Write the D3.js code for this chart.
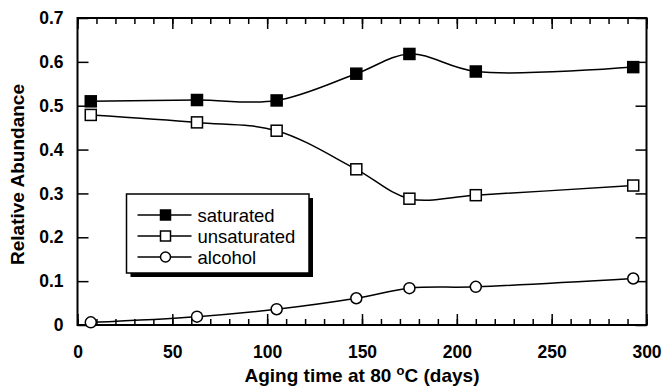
<!DOCTYPE html>
<html>
<head>
<meta charset="utf-8">
<script src="https://cdn.jsdelivr.net/npm/d3@7"></script>
<style>
  html, body { margin: 0; padding: 0; background: #fff; }
  svg { display: block; font-family: "Liberation Sans", Arial, Helvetica, sans-serif; }
</style>
</head>
<body>
<svg id="chart" width="663" height="387"></svg>
<script>
// values
const days = [7, 63, 105, 147, 175, 210, 293];
const saturated = [0.51, 0.513, 0.512, 0.573, 0.618, 0.578, 0.588];
const unsaturated = [0.479, 0.462, 0.443, 0.355, 0.288, 0.296, 0.318];
const alcohol = [0.006, 0.019, 0.036, 0.061, 0.084, 0.087, 0.106];

const seriesNames = ["saturated", "unsaturated", "alcohol"];
const xTicks = [0, 50, 100, 150, 200, 250, 300];
const xMinorTicks = d3.range(0, 301, 10);
const yTicks = [0, 0.1, 0.2, 0.3, 0.4, 0.5, 0.6, 0.7];
const yTickLabels = ["0", "0.1", "0.2", "0.3", "0.4", "0.5", "0.6", "0.7"];

const margin = {left: 77.5, right: 16.5, top: 18, bottom: 62};
const width = 663 - margin.left - margin.right;
const height = 387 - margin.top - margin.bottom;

const svg = d3.select("#chart");
const g = svg.append("g")
  .attr("transform", "translate(" + margin.left + "," + margin.top + ")");

const x = d3.scaleLinear().domain([0, 300]).range([0, width]);
const y = d3.scaleLinear().domain([0, 0.7]).range([height, 0]);

// minor ticks, top and bottom, pointing inward
g.append("g")
  .attr("transform", "translate(0," + height + ")")
  .call(d3.axisBottom(x).tickValues(xMinorTicks).tickSize(-6).tickFormat(""));
g.append("g")
  .call(d3.axisTop(x).tickValues(xMinorTicks).tickSize(-6).tickFormat(""));

// major x ticks + labels
g.append("g")
  .attr("transform", "translate(0," + height + ")")
  .call(d3.axisBottom(x).tickValues(xTicks).tickSize(-11).tickPadding(21).tickFormat(d3.format("d")));
g.append("g")
  .call(d3.axisTop(x).tickValues(xTicks).tickSize(-11).tickFormat(""));

// y ticks left with labels, right without
g.append("g")
  .call(d3.axisLeft(y).tickValues(yTicks).tickSize(-11).tickPadding(14)
    .tickFormat((d, i) => yTickLabels[i]));
g.append("g")
  .attr("transform", "translate(" + width + ",0)")
  .call(d3.axisRight(y).tickValues(yTicks).tickSize(-11).tickFormat(""));

g.selectAll(".domain").remove();
g.selectAll(".tick line").attr("stroke", "#000").attr("stroke-width", 1.5);
g.selectAll(".tick text")
  .attr("fill", "#000")
  .style("font-size", "17.5px")
  .style("font-weight", "bold");

// frame
g.append("rect")
  .attr("width", width).attr("height", height)
  .attr("fill", "none").attr("stroke", "#000").attr("stroke-width", 2);

// axis titles
const xTitle = svg.append("text")
  .attr("x", margin.left + width / 2)
  .attr("y", 382)
  .attr("text-anchor", "middle")
  .style("font-size", "19px").style("font-weight", "bold");
xTitle.append("tspan").text("Aging time at 80 ");
xTitle.append("tspan").attr("dy", -7).style("font-size", "13px").text("o");
xTitle.append("tspan").attr("dy", 7).text("C (days)");

svg.append("text")
  .attr("transform", "translate(24," + (margin.top + height / 2 + 3) + ") rotate(-90)")
  .attr("text-anchor", "middle")
  .style("font-size", "19px").style("font-weight", "bold")
  .text("Relative Abundance");

// lines + markers
const allSeries = [saturated, unsaturated, alcohol];
const line = d3.line()
  .x((d, i) => x(days[i]))
  .y(d => y(d))
  .curve(d3.curveCatmullRom.alpha(0.5));

allSeries.forEach(vals => {
  g.append("path")
    .datum(vals)
    .attr("d", line)
    .attr("fill", "none")
    .attr("stroke", "#000")
    .attr("stroke-width", 1.5);
});

function marker(sel, kind, size) {
  if (kind === 2) {
    sel.append("circle").attr("r", size / 2)
      .attr("fill", "#fff").attr("stroke", "#000").attr("stroke-width", 1.5);
  } else {
    sel.append("rect")
      .attr("x", -size / 2).attr("y", -size / 2)
      .attr("width", size).attr("height", size)
      .attr("fill", kind === 0 ? "#000" : "#fff")
      .attr("stroke", "#000").attr("stroke-width", 1.5);
  }
}

allSeries.forEach((vals, k) => {
  g.selectAll(".m" + k)
    .data(vals)
    .enter()
    .append("g")
    .attr("transform", (d, i) => "translate(" + x(days[i]) + "," + y(d) + ")")
    .each(function () { marker(d3.select(this), k, 11); });
});

// legend with drop shadow
const lg = svg.append("g").attr("transform", "translate(126.5,194)");
lg.append("rect").attr("x", 4).attr("y", 4).attr("width", 182.5).attr("height", 79).attr("fill", "#000");
lg.append("rect").attr("width", 182.5).attr("height", 79)
  .attr("fill", "#fff").attr("stroke", "#000").attr("stroke-width", 1.5);

seriesNames.forEach((name, k) => {
  const row = lg.append("g").attr("transform", "translate(0," + (21 + k * 21) + ")");
  row.append("line").attr("x1", 11).attr("x2", 65)
    .attr("stroke", "#000").attr("stroke-width", 1.5);
  const m = row.append("g").attr("transform", "translate(39,0)");
  marker(m, k, 10);
  row.append("text").attr("x", 71).attr("y", 6.5)
    .style("font-size", "18.5px")
    .text(name);
});
</script>
</body>
</html>
